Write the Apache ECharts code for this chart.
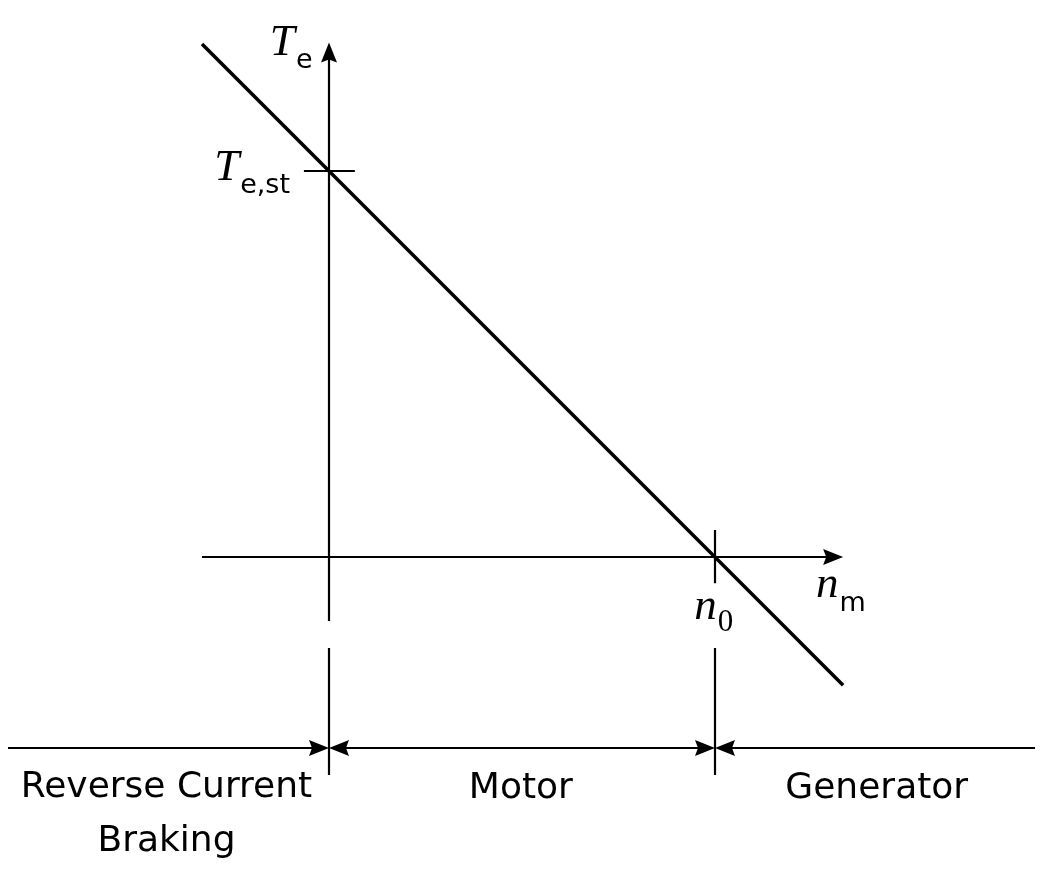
<!DOCTYPE html>
<html><head><meta charset="utf-8">
<script src="https://cdn.jsdelivr.net/npm/echarts@6/dist/echarts.min.js"></script>
<style>html,body{margin:0;padding:0;background:#fff}#c{width:1052px;height:872px}</style>
</head><body><div id="c"></div>
<script>
// Data in normalized units: n / n0 and Te / Te,st
const charLine = [[-0.329, 1.329], [1.332, -0.332]];          // Te = Te,st (1 - n/n0)
const nAxis = [[-0.329, 0], [1.332, 0]];
const teAxis = [[0, -0.166], [0, 1.333]];
const tickTest = [[-0.065, 1], [0.067, 1]];
const tickN0 = [[1, 0.07], [1, -0.068]];
const dimY = -0.4948;
const boundaryLow = [[0, -0.2358], [0, -0.5648]];
const boundaryHigh = [[1, -0.2358], [1, -0.5648]];
const dimSegments = [
  {from: -0.8316, to: 0, arrows: ['none', 'arr']},
  {from: 0, to: 1, arrows: ['arr', 'arr']},
  {from: 1, to: 1.829, arrows: ['arr', 'none']}
];
const regionLabels = [
  {name: 'Reverse Current\nBraking', pos: [-0.421, -0.668]},
  {name: 'Motor', pos: [0.497, -0.600]},
  {name: 'Generator', pos: [1.419, -0.600]}
];
const axisLabels = [
  {text: '{T|T}{s|e}', pos: [-0.098, 1.320], align: 'center'},
  {text: '{T|T}{s|e,st}', pos: [-0.101, 0.995], align: 'right'},
  {text: '{T|n}{s|m}', pos: [1.326, -0.0855], align: 'center'},
  {text: '{T|n}{d|0}', pos: [0.997, -0.142], align: 'center'}
];

const ARROW = 'path://M0,0 L8,20 L0,17 L-8,20 Z';
const AL = 20, UNIT = 386;
const blk = '#000';
// shift an arrow end back by half the arrow length so its tip lands on the point
function seg(p1, p2, s1, s2) {
  const dx = p2[0] - p1[0], dy = p2[1] - p1[1];
  const len = Math.hypot(dx, dy), ux = dx / len, uy = dy / len;
  const h = AL / 2 / UNIT;
  const a = s1 === 'arr' ? [p1[0] + ux * h, p1[1] + uy * h] : p1;
  const b = s2 === 'arr' ? [p2[0] - ux * h, p2[1] - uy * h] : p2;
  return [
    {coord: a, symbol: s1 === 'arr' ? ARROW : 'none'},
    {coord: b, symbol: s2 === 'arr' ? ARROW : 'none'}
  ];
}
const markLines = [
  seg(nAxis[0], nAxis[1], 'none', 'arr'),
  seg(teAxis[0], teAxis[1], 'none', 'arr'),
  seg(tickTest[0], tickTest[1], 'none', 'none'),
  seg(tickN0[0], tickN0[1], 'none', 'none'),
  seg(boundaryLow[0], boundaryLow[1], 'none', 'none'),
  seg(boundaryHigh[0], boundaryHigh[1], 'none', 'none')
].concat(dimSegments.map(d => seg([d.from, dimY], [d.to, dimY], d.arrows[0], d.arrows[1])));

const chart = echarts.init(document.getElementById('c'), null, {renderer: 'canvas'});
const rich = {
  T: {fontFamily: 'Liberation Serif', fontStyle: 'italic', fontSize: 45, color: blk,
      verticalAlign: 'bottom', padding: [0, 1, 9, 0]},
  s: {fontFamily: 'DejaVu Sans', fontSize: 27, color: blk, verticalAlign: 'bottom'},
  d: {fontFamily: 'Liberation Serif', fontSize: 31, color: blk, verticalAlign: 'bottom'}
};
chart.setOption({
  animation: false,
  grid: {left: 0, right: 0, top: 0, bottom: 0},
  xAxis: {type: 'value', min: -329 / 386, max: 723 / 386, show: false},
  yAxis: {type: 'value', min: -315 / 386, max: 557 / 386, show: false},
  series: [
    {
      type: 'line', data: charLine, symbol: 'none', silent: true,
      lineStyle: {color: blk, width: 3.5},
      markLine: {
        silent: true, symbolSize: [16, 20], label: {show: false},
        lineStyle: {color: blk, width: 2.2, type: 'solid'},
        data: markLines
      }
    },
    {
      type: 'scatter', symbolSize: 1, silent: true, itemStyle: {color: 'rgba(0,0,0,0)', opacity: 1},
      data: regionLabels.map(r => ({value: r.pos, name: r.name})),
      label: {show: true, position: 'inside', formatter: p => p.name,
        fontFamily: 'DejaVu Sans', fontSize: 36, color: blk, lineHeight: 54, align: 'center'}
    },
    {
      type: 'scatter', symbolSize: 1, silent: true, itemStyle: {color: 'rgba(0,0,0,0)', opacity: 1},
      data: axisLabels.map(a => ({value: a.pos, label: {formatter: a.text, align: a.align}})),
      label: {show: true, position: 'inside', rich: rich, color: blk}
    }
  ]
});
</script></body></html>
